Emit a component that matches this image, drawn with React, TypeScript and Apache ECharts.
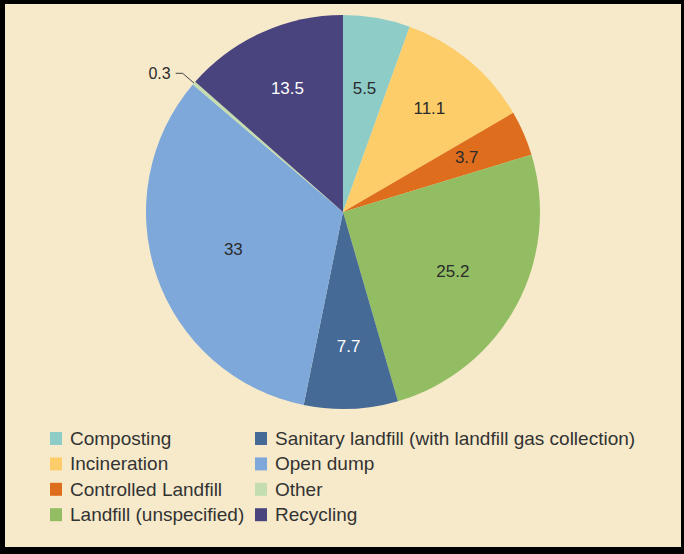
import React, { useEffect, useRef } from "react";
import * as echarts from "echarts";

const categories = [
  "Composting",
  "Incineration",
  "Controlled Landfill",
  "Landfill (unspecified)",
  "Sanitary landfill (with landfill gas collection)",
  "Open dump",
  "Other",
  "Recycling",
];
const values = [5.5, 11.1, 3.7, 25.2, 7.7, 33, 0.3, 13.5];
const colors = ["#8ECCC8", "#FDCD69", "#DE6E1E", "#93BD62", "#456A95", "#7FA8DA", "#C4DDB0", "#4A447E"];
const labelColors = ["#2b2b2b", "#2b2b2b", "#2b2b2b", "#2b2b2b", "#ffffff", "#2b2b2b", "#2b2b2b", "#ffffff"];
const legendCol1 = categories.slice(0, 4);
const legendCol2 = categories.slice(4);
// label rings: which items get their label on which radial distance
const labelRings: { dist: number; items: string[] }[] = [
  { dist: 113, items: ["Open dump"] },
  { dist: 122, items: ["Composting", "Landfill (unspecified)"] },
  { dist: 132, items: ["Incineration", "Controlled Landfill", "Sanitary landfill (with landfill gas collection)", "Recycling"] },
];

const CX = 338;
const CY = 208;
const R = 197;
const FONT = "'Liberation Sans', Arial, sans-serif";

export default function App() {
  const ref = useRef<HTMLDivElement>(null);
  useEffect(() => {
    document.body.style.margin = "0";
    const chart = echarts.init(ref.current!, null, { renderer: "svg" });
    const baseData = categories.map((c, i) => ({
      name: c,
      value: values[i],
      itemStyle: { color: colors[i] },
    }));
    const mainData = baseData.map((d) =>
      d.name === "Other"
        ? {
            ...d,
            label: {
              show: true,
              position: "outside",
              formatter: "{c}",
              color: "#2b2b2b",
              fontSize: 16,
              fontFamily: FONT,
            },
            labelLine: { show: true, length: 15, length2: 7, lineStyle: { color: "#444", width: 1 } },
          }
        : d
    );
    const overlays = labelRings.map((ring) => ({
      type: "pie",
      center: [CX, CY],
      radius: [0, ring.dist * 2],
      startAngle: 90,
      clockwise: true,
      silent: true,
      legendHoverLink: false,
      emphasis: { disabled: true },
      itemStyle: { color: "rgba(0,0,0,0)", borderWidth: 0 },
      labelLine: { show: false },
      data: categories.map((c, i) => ({
        name: c,
        value: values[i],
        itemStyle: { color: "rgba(0,0,0,0)" },
        label: {
          show: ring.items.includes(c),
          position: "inside",
          formatter: "{c}",
          color: labelColors[i],
          fontSize: 17,
          fontFamily: FONT,
        },
      })),
      z: 5,
    }));
    const legendCommon = {
      orient: "vertical",
      top: 425,
      itemWidth: 12,
      itemHeight: 13,
      itemGap: 6.4,
      icon: "rect",
      textStyle: { fontSize: 19, color: "#333", fontFamily: FONT, lineHeight: 19, padding: [0, 0, 0, 3] },
      selectedMode: false,
      padding: 0,
    };
    chart.setOption({
      animation: false,
      backgroundColor: "#F6EACB",
      color: colors,
      legend: [
        { ...legendCommon, left: 45, data: legendCol1 },
        { ...legendCommon, left: 250, data: legendCol2 },
      ],
      series: [
        {
          type: "pie",
          center: [CX, CY],
          radius: [0, R],
          startAngle: 90,
          clockwise: true,
          avoidLabelOverlap: false,
          label: { show: false },
          labelLine: { show: false },
          emphasis: { disabled: true },
          itemStyle: { borderWidth: 0 },
          data: mainData,
        },
        ...overlays,
      ],
    });
    return () => chart.dispose();
  }, []);
  return (
    <div style={{ position: "relative", width: 684, height: 554, background: "#000" }}>
      <div
        ref={ref}
        style={{ position: "absolute", left: 5, top: 4, width: 676, height: 543 }}
      />
    </div>
  );
}
